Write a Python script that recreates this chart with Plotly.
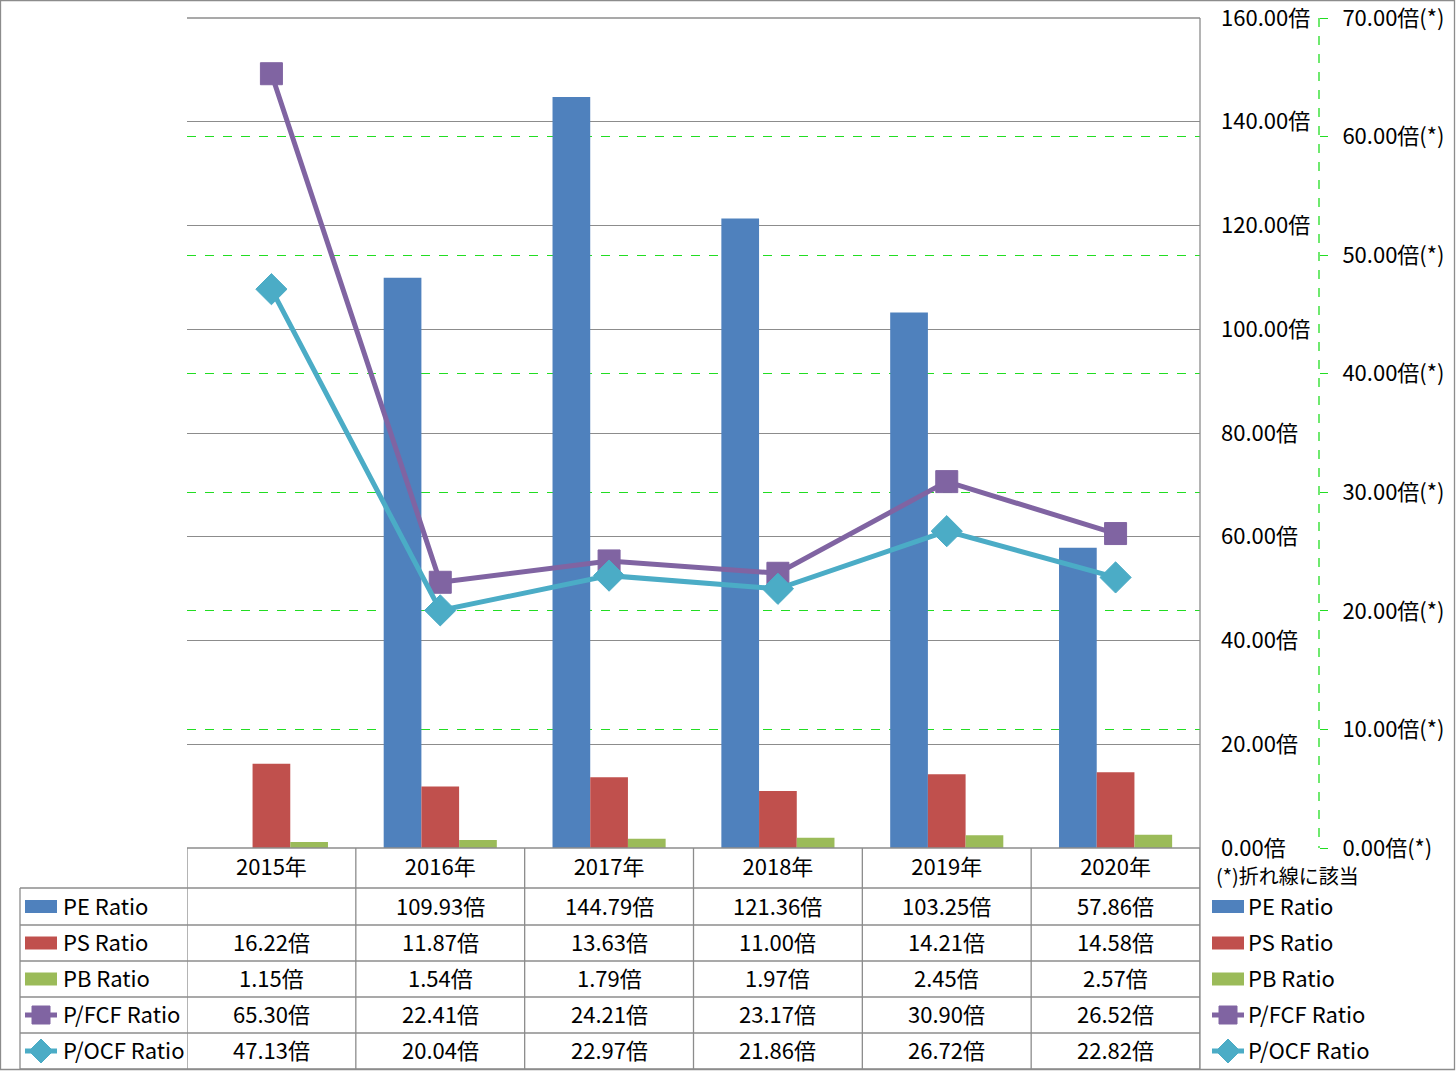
import plotly.graph_objects as go

years = ["2015年", "2016年", "2017年", "2018年", "2019年", "2020年"]
pe_ratio = [None, 109.93, 144.79, 121.36, 103.25, 57.86]
ps_ratio = [16.22, 11.87, 13.63, 11.00, 14.21, 14.58]
pb_ratio = [1.15, 1.54, 1.79, 1.97, 2.45, 2.57]
pfcf_ratio = [65.30, 22.41, 24.21, 23.17, 30.90, 26.52]
pocf_ratio = [47.13, 20.04, 22.97, 21.86, 26.72, 22.82]

names = ["PE Ratio", "PS Ratio", "PB Ratio", "P/FCF Ratio", "P/OCF Ratio"]
colors = ["#4F81BD", "#C0504D", "#9BBB59", "#8064A2", "#4BACC6"]
series = [pe_ratio, ps_ratio, pb_ratio, pfcf_ratio, pocf_ratio]

W, H = 1456, 1071
FONT = "Noto Sans CJK JP"
FS = 22
GRAY = "#8C8C8C"
GREEN = "#22DD22"

PL, PR, PT, PB = 187, 1200, 18, 848
row_lines = [848, 888, 925, 961, 997, 1033, 1069]
TXT_SHIFT = -2


def X(px):
    return px / W


def Y(py):
    return 1 - py / H


fig = go.Figure()
for k in range(3):
    fig.add_trace(go.Bar(x=years, y=series[k], name=names[k],
                         marker=dict(color=colors[k], line=dict(width=0)),
                         showlegend=False))
fig.add_trace(go.Scatter(x=years, y=pfcf_ratio, name=names[3], yaxis="y2",
                         mode="lines+markers",
                         line=dict(color=colors[3], width=5),
                         marker=dict(symbol="square", size=22, color=colors[3],
                                     line=dict(color=colors[3], width=1)),
                         showlegend=False))
fig.add_trace(go.Scatter(x=years, y=pocf_ratio, name=names[4], yaxis="y2",
                         mode="lines+markers",
                         line=dict(color=colors[4], width=5),
                         marker=dict(symbol="diamond", size=24, color=colors[4],
                                     line=dict(color=colors[4], width=1)),
                         showlegend=False))

shapes = []


def hl(py, x0, x1, color=GRAY, dash=None, layer="above"):
    shapes.append(dict(type="line", xref="paper", yref="paper",
                       x0=X(x0), x1=X(x1), y0=Y(py), y1=Y(py),
                       line=dict(color=color, width=1.3, dash=dash), layer=layer))


def vl(px, y0, y1, color=GRAY, dash=None, layer="above"):
    shapes.append(dict(type="line", xref="paper", yref="paper",
                       x0=X(px), x1=X(px), y0=Y(y0), y1=Y(y1),
                       line=dict(color=color, width=1.3, dash=dash), layer=layer))


shapes.append(dict(type="rect", xref="paper", yref="paper", x0=X(0.5), x1=X(W - 1.5),
                   y0=Y(0.5), y1=Y(H - 1.5), line=dict(color=GRAY, width=1.3)))
hl(PT, PL, PR)
hl(PB, PL, PR)
for r in row_lines[1:]:
    hl(r, 20, PR)
vl(20, row_lines[1], row_lines[-1])
for i in range(7):
    shapes.append(dict(type="line", xref="x", yref="paper", x0=i - 0.5, x1=i - 0.5,
                       y0=Y(PB), y1=Y(row_lines[-1]),
                       line=dict(color=GRAY, width=1.3), layer="above"))
vl(PR, PT, row_lines[-1])
vl(1319, PT, PB, color=GREEN, dash="dash")

annotations = []


def key(px_c, py_c, k):
    if k < 3:
        shapes.append(dict(type="rect", xref="paper", yref="paper",
                           x0=X(px_c - 16), x1=X(px_c + 16), y0=Y(py_c - 6.5), y1=Y(py_c + 6.5),
                           fillcolor=colors[k], line=dict(width=0)))
    else:
        shapes.append(dict(type="line", xref="paper", yref="paper",
                           x0=X(px_c - 16), x1=X(px_c + 16), y0=Y(py_c), y1=Y(py_c),
                           line=dict(color=colors[k], width=5)))
        if k == 3:
            s = 9
            shapes.append(dict(type="rect", xref="paper", yref="paper",
                               x0=X(px_c - s), x1=X(px_c + s), y0=Y(py_c - s), y1=Y(py_c + s),
                               fillcolor=colors[k], line=dict(color=colors[k], width=1)))
        else:
            s = 12
            path = (f"M {X(px_c - s)},{Y(py_c)} L {X(px_c)},{Y(py_c - s)} "
                    f"L {X(px_c + s)},{Y(py_c)} L {X(px_c)},{Y(py_c + s)} Z")
            shapes.append(dict(type="path", xref="paper", yref="paper", path=path,
                               fillcolor=colors[k], line=dict(color=colors[k], width=1)))


for k in range(5):
    yc = (row_lines[k + 1] + row_lines[k + 2]) / 2
    yt = yc + TXT_SHIFT
    key(41, yc, k)
    annotations.append(dict(xref="paper", yref="paper", x=X(61), y=Y(yt), text=names[k],
                            showarrow=False, xanchor="left", yanchor="middle",
                            font=dict(family=FONT, size=FS, color="black")))
    for i, v in enumerate(series[k]):
        txt = "" if v is None else f"{v:.2f}倍"
        if txt:
            annotations.append(dict(xref="x", yref="paper", x=years[i], y=Y(yt), text=txt,
                                    showarrow=False, xanchor="center", yanchor="middle",
                                    font=dict(family=FONT, size=FS, color="black")))
    key(1228, yc, k)
    annotations.append(dict(xref="paper", yref="paper", x=X(1246), y=Y(yt), text=names[k],
                            showarrow=False, xanchor="left", yanchor="middle",
                            font=dict(family=FONT, size=FS, color="black")))

annotations.append(dict(xref="paper", yref="paper", x=X(1214), y=Y(875), text="(*)折れ線に該当",
                        showarrow=False, xanchor="left", yanchor="middle",
                        font=dict(family=FONT, size=20, color="black")))

fig.update_layout(
    width=W, height=H,
    margin=dict(l=0, r=0, t=0, b=0, pad=0),
    paper_bgcolor="white", plot_bgcolor="white",
    font=dict(family=FONT, size=FS, color="black"),
    barmode="group", bargap=0.33, bargroupgap=0,
    xaxis=dict(domain=[X(PL), X(PR)], type="category", range=[-0.5, 5.5],
               showgrid=False, showline=False, zeroline=False, ticks="",
               automargin=False,
               tickfont=dict(family=FONT, size=FS, color="black"),
               ticklabelstandoff=4),
    yaxis=dict(domain=[Y(PB), Y(PT)], range=[0, 160.001], dtick=20, tick0=0,
               side="right", showline=False, showgrid=True, gridcolor=GRAY, gridwidth=1.3,
               zeroline=False, tickformat=".2f", ticksuffix="倍", ticks="",
               automargin=False, ticklabelstandoff=20, ticklabeloverflow="allow",
               tickfont=dict(family=FONT, size=FS, color="black")),
    yaxis2=dict(overlaying="y", anchor="free", position=X(1319), side="right",
                range=[0, 70.0005], dtick=10, tick0=0, showgrid=True, gridcolor=GREEN,
                griddash="dash", gridwidth=1.3, zeroline=False, showline=False,
                ticks="outside", ticklen=8, tickcolor=GREEN, tickwidth=1.3,
                automargin=False, ticklabeloverflow="allow",
                tickformat=".2f", ticksuffix="倍(*)", ticklabelstandoff=10,
                tickfont=dict(family=FONT, size=FS, color="black")),
    shapes=shapes,
    annotations=annotations,
)

fig.write_html("out.html", config={"displayModeBar": False},
               post_script="document.body.style.margin='0';")
